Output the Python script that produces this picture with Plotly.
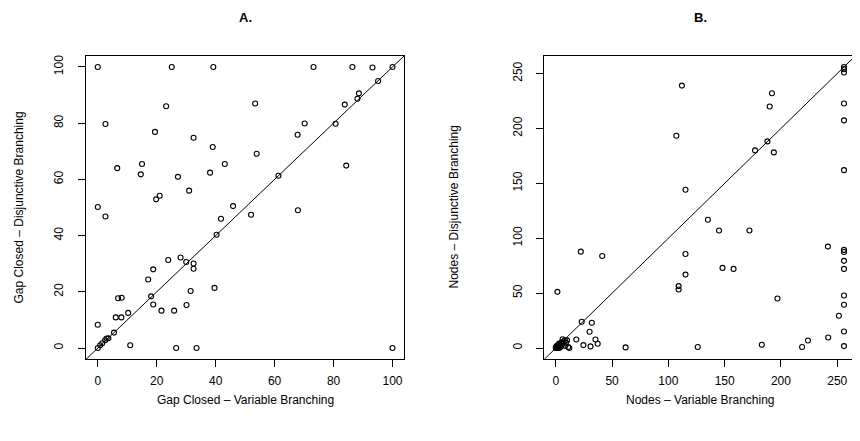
import plotly.graph_objects as go

# Panel A: Gap closed (%)
gap_variable = [0, 25.1, 39.2, 23.2, 2.6, 19.4, 32.5, 39, 6.6, 15, 14.6, 27.2, 38.1, 43.1, 31, 21, 19.8,
                73.2, 86.4, 93.2, 100, 95.1, 88.6, 88.1, 83.8, 53.4, 80.7, 70.2, 67.8, 53.9, 84.3, 61.3,
                0, 2.6, 45.9, 52, 41.8, 40.3, 23.9, 28.1, 30, 32.5, 32.5, 18.8, 17.1, 31.5, 39.6, 18.1,
                18.8, 21.6, 25.9, 30.1, 6.9, 8.1, 6.1, 8, 10.3, 0, 5.5, 2.5, 3, 3.6, 1.5, 0.8, 0, 11,
                26.6, 33.5, 67.9, 100]
gap_disjunctive = [100, 100, 100, 86, 79.7, 76.9, 74.8, 71.5, 64, 65.5, 61.8, 60.9, 62.4, 65.5, 56, 54.2, 52.9,
                   100, 100, 99.8, 100, 95, 90.6, 88.7, 86.6, 87, 79.8, 79.9, 75.9, 69.1, 64.9, 61.3,
                   50.2, 46.8, 50.5, 47.4, 46, 40.3, 31.3, 32.2, 30.6, 30.1, 28.2, 28, 24.4, 20.3, 21.4, 18.4,
                   15.5, 13.3, 13.3, 15.3, 17.7, 17.9, 10.9, 10.9, 12.5, 8.3, 5.5, 2.8, 3.4, 3.5, 1.7, 1, 0, 1,
                   0, 0, 49, 0]

# Panel B: Nodes
nodes_variable = [107.1, 112, 115.2, 192, 190, 188, 177, 193.7,
                  256, 256, 256, 256, 256, 256,
                  135.1, 145, 172, 115.2, 115.2, 109.1, 109.1, 148.1, 157.9, 196.9, 126.1, 183, 218.8, 224,
                  242, 241.7, 251.5,
                  256, 256, 256, 256, 256, 256, 256, 256,
                  22.2, 41.2, 1.4, 23, 32, 30, 18.2, 35.2, 37.2, 24.5, 30.8, 62,
                  0, 0.5, 1, 2, 1, 2, 3, 3, 4, 5, 6, 7, 8, 6, 9, 10, 11, 12, 4, 2, 1, 0, 3, 5, 8]
nodes_disjunctive = [193.3, 239, 144.2, 232.1, 220, 188.2, 180, 178.2,
                     256, 254, 251, 222.7, 207.3, 162,
                     116.9, 107, 107, 85.7, 66.9, 56.4, 53.3, 73, 72.1, 45.1, 0.9, 3, 0.9, 6.9,
                     9.6, 92.4, 29.4,
                     89.4, 87.5, 79.4, 72.1, 47.8, 39.4, 15.1, 1.8,
                     87.8, 83.9, 51.2, 23.9, 23, 14.8, 7.8, 7.8, 3.9, 2.7, 1.5, 0.6,
                     0, 0.5, 1, 1, 2, 3, 2, 4, 3, 5, 4, 6, 7, 8, 5, 7, 1, 0, 1, 0, 0, 1, 0, 2, 2]

ticks_A = [0, 20, 40, 60, 80, 100]
ticks_B = [0, 50, 100, 150, 200, 250]

OFF = 8  # default page body margin
W, H = 860 - OFF, 441 - OFF
FONT = "Liberation Sans, Arial, Helvetica, sans-serif"

def px(x):
    return (x - OFF) / W

def py(y):
    return 1 - (y - OFF) / H

fig = go.Figure()
marker = dict(symbol="circle-open", size=5, color="black", line=dict(width=1.1, color="black"))
fig.add_trace(go.Scatter(x=gap_variable, y=gap_disjunctive, mode="markers", marker=marker,
                         xaxis="x", yaxis="y", showlegend=False, cliponaxis=False))
fig.add_trace(go.Scatter(x=nodes_variable, y=nodes_disjunctive, mode="markers", marker=marker,
                         xaxis="x2", yaxis="y2", showlegend=False, cliponaxis=False))

def rng(lo, hi):
    d = (hi - lo) * 0.04
    return [lo - d, hi + d]

rA = rng(0, 100)
rB = rng(0, 256)

# y = x reference lines
fig.add_shape(type="line", xref="x", yref="y", x0=rA[0], y0=rA[0], x1=rA[1], y1=rA[1],
              line=dict(color="black", width=1))
fig.add_shape(type="line", xref="x2", yref="y2", x0=rB[0], y0=rB[0], x1=rB[1], y1=rB[1],
              line=dict(color="black", width=1))

axis_common = dict(showgrid=False, zeroline=False, showline=True, mirror=True, linecolor="black",
                   linewidth=1, ticks="outside", ticklen=7, tickwidth=1, tickcolor="black",
                   tickfont=dict(family=FONT, size=12, color="black"), automargin=False)

yb, yt = 359.3, 55.7
fig.update_layout(
    width=W, height=H, margin=dict(l=0, r=0, t=0, b=0),
    plot_bgcolor="white", paper_bgcolor="white",
    xaxis=dict(domain=[px(86), px(404.3)], range=rA, tickvals=ticks_A, anchor="y",
               ticklabelstandoff=3, **axis_common),
    yaxis=dict(domain=[py(yb), py(yt)], range=rA, tickvals=ticks_A, anchor="x", tickangle=-90,
               ticklabelstandoff=10, **axis_common),
    xaxis2=dict(domain=[px(544.3), px(855.5)], range=rB, tickvals=ticks_B, anchor="y2",
                ticklabelstandoff=3, **axis_common),
    yaxis2=dict(domain=[py(yb), py(yt)], range=rB, tickvals=ticks_B, anchor="x2", tickangle=-90,
                ticklabelstandoff=10, **axis_common),
)

ann = []
tf = dict(family=FONT, size=13, color="black")
lf = dict(family=FONT, size=12, color="black")
common = dict(xref="paper", yref="paper", showarrow=False, xanchor="center", yanchor="middle")
ann.append(dict(text="<b>A.</b>", x=px(245.2), y=py(17), font=tf, **common))
ann.append(dict(text="<b>B.</b>", x=px(700), y=py(17), font=tf, **common))
ann.append(dict(text="Gap Closed \u2013 Variable Branching", x=px(245.2), y=py(400), font=lf, **common))
ann.append(dict(text="Nodes \u2013 Variable Branching", x=px(700), y=py(400), font=lf, **common))
ann.append(dict(text="Gap Closed \u2013 Disjunctive Branching", x=px(18), y=py(207.5), font=lf,
                textangle=-90, **common))
ann.append(dict(text="Nodes \u2013 Disjunctive Branching", x=px(453), y=py(207.5), font=lf,
                textangle=-90, **common))
fig.update_layout(annotations=ann)

fig.write_html("out.html")
